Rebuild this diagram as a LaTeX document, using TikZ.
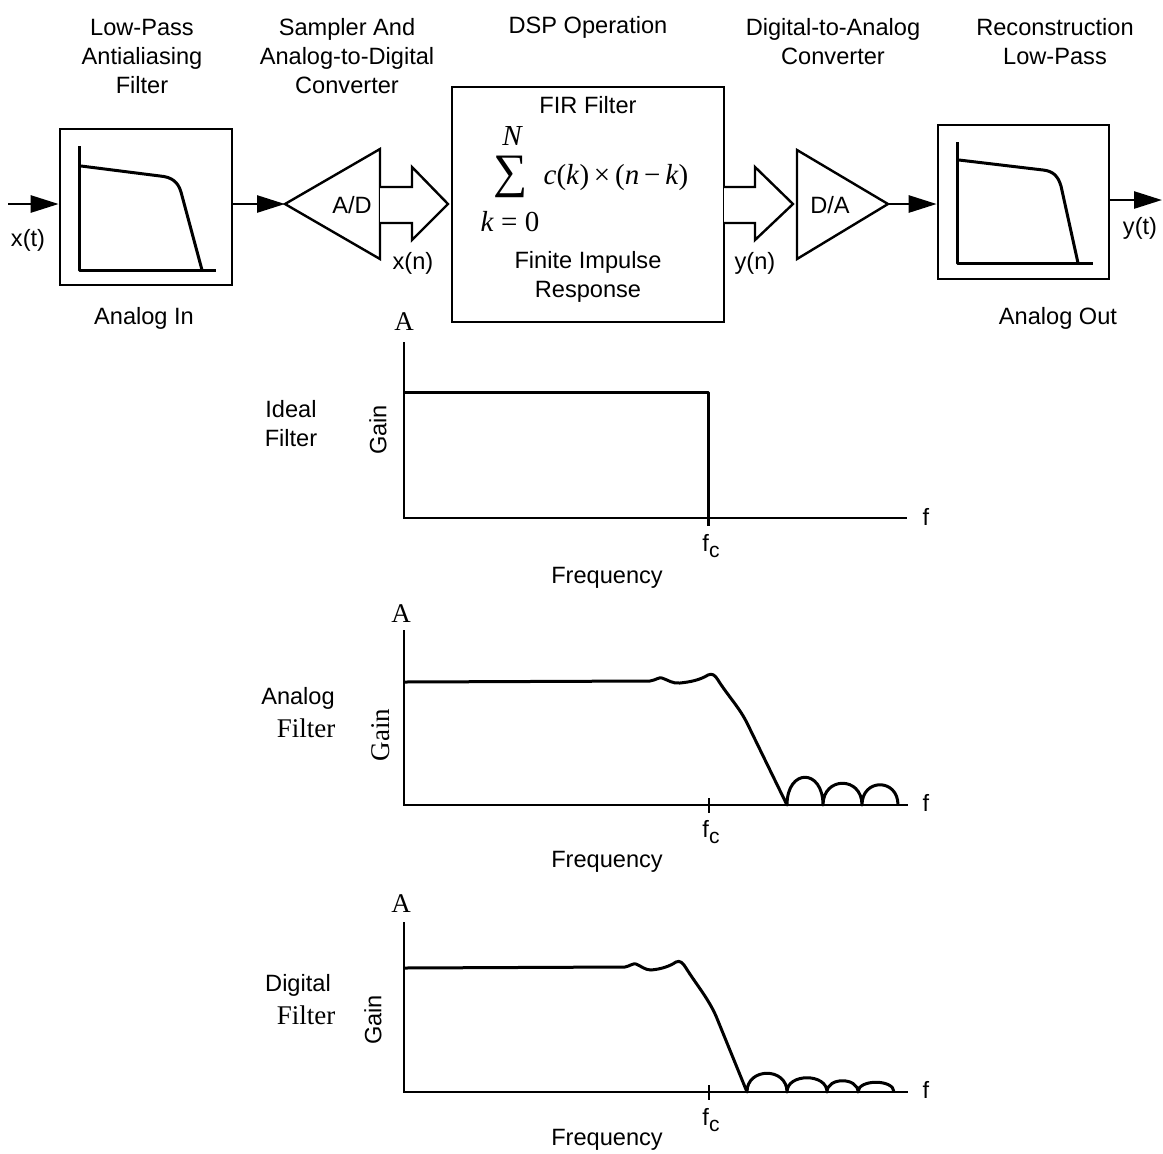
\documentclass[tikz,border=0pt]{standalone}
\usepackage{fontspec}
\setmainfont{Liberation Sans}
\newfontfamily\tms{Liberation Serif}
\usetikzlibrary{arrows.meta,positioning}
\newcommand{\fcut}{f\raisebox{-0.55ex}{\fontsize{10.5}{11}\selectfont c}}

\begin{document}
\begin{tikzpicture}[x=0.5pt,y=-0.5pt,
            every node/.append style={font=\fontsize{11.8}{14.5}\selectfont, inner sep=0pt},
            serif/.style={font=\tms\fontsize{13.5}{15}\selectfont},
            blockbox/.style={draw, line width=1.3pt, minimum width=86pt, minimum height=78pt},
            sig/.style={line width=1.3pt, -{Triangle[length=14pt,width=8.5pt]}},
            bus/.style={draw, fill=white, line width=1.2pt, line join=miter},
            resp/.style={line width=1.5pt, line join=round},
            axis/.style={line width=1.4pt},
            caption/.style={align=center}]
            \useasboundingbox (0,0) rectangle (1163,1153);
            % stage titles
            \node[caption] (t1) at (142,56) {Low-Pass\\Antialiasing\\Filter};
            \node[caption] (t2) at (347,56) {Sampler And\\Analog-to-Digital\\Converter};
            \node[caption] (t3) at (588,27) {DSP Operation};
            \node[caption] (t4) at (833,41.5) {Digital-to-Analog\\Converter};
            \node[caption] (t5) at (1055,41.5) {Reconstruction\\Low-Pass};
            % signal chain
            \coordinate (xin) at (8,204);
            \node[blockbox] (lpf) at (146,207) {};
            \node[blockbox, minimum width=85.5pt, minimum height=77pt] (rec) at (1023.5,202) {};
            \node[blockbox, minimum width=136pt, minimum height=117.5pt] (fir) at (588,204.5) {};
            \coordinate (adin) at (285,204);
            \coordinate (daout) at (888,204);
            \coordinate (yout) at (1162,200);
            \draw[line width=1.2pt] (adin) -- (380,149) -- (380,259) -- cycle;
            \draw[line width=1.2pt] (797,150) -- (797,259) -- (daout) -- cycle;
            \node (adlbl) at (352,205) {A/D};
            \node (dalbl) at (830,205) {D/A};
            \draw[bus] (380,187) -- (412,187) -- (412,167) -- (448,204) -- (412,240) -- (412,223) -- (380,223);
            \draw[bus] (724,187) -- (755,187) -- (755,167) -- (793,204) -- (755,240) -- (755,223) -- (724,223);
            \draw[sig] (xin) -- (xin -| lpf.west);
            \draw[sig] (lpf.east |- adin) -- (adin);
            \draw[sig] (daout) -- (daout -| rec.west);
            \draw[sig] (rec.east |- yout) -- (yout);
            \node (xt) at (28,240) {x(t)};
            \node (xn) at (413,263) {x(n)};
            \node (yn) at (755,263) {y(n)};
            \node (yt) at (1140,228) {y(t)};
            \node (ain) at (144,318) {Analog In};
            \node (aout) at (1058,318) {Analog Out};
            % analog filter sketches
            \draw[resp] (79,146) -- (79,270) -- (216,270);
            \draw[resp] (81,166) -- (160,176) .. controls (172,177) and (178,182) .. (181,192) -- (202,270);
            \draw[resp] (957,142) -- (957,263) -- (1093,263);
            \draw[resp] (959,160) -- (1043,170) .. controls (1053,171) and (1058,176) .. (1061,186) -- (1078,263);
            % FIR block text
            \node (firname) at (588,105) {FIR Filter};
            \node (firN) at (512,136) {\tms\fontsize{14.5}{15}\selectfont\itshape N};
            \node (firsum) at (511,177) {\tms\fontsize{24}{24}\selectfont ∑};
            \node (firterm) at (616,178) {\tms\fontsize{14.5}{15}\selectfont \textit{c}(\textit{k})\,×\,(\textit{n}\,−\,\textit{k})};
            \node (firk) at (510,222) {\tms\fontsize{14.5}{15}\selectfont \textit{k} = 0};
            \node[caption] (firdesc) at (588,277) {Finite Impulse\\Response};
            % ideal filter
            \node[serif] (ia) at (404,322) {A};
            \node[caption] (ilbl) at (291,424) {Ideal\\Filter};
            \node[rotate=90] (igain) at (378,430) {Gain};
            \draw[axis] (404,342) -- (404,518) -- (907,518);
            \draw[resp] (404,392) -- (708,392) -- (708,526);
            \node (if) at (926,517) {f};
            \node (ifc) at (711,546) {\fcut};
            \node (ifreq) at (607,578) {Frequency};
            % analog filter
            \node[serif] (aa) at (401,614) {A};
            \node (albl1) at (298,698) {Analog};
            \node[serif] (albl2) at (306,728) {Filter};
            \node[serif, rotate=90] (again) at (381,735) {Gain};
            \draw[axis] (404,630) -- (404,805) -- (908,805);
            \draw[axis] (709,798) -- (709,813);
            \draw[resp] (404,682) -- (650,681) .. controls (656,680) and (659,677) .. (662,678)
                .. controls (668,680) and (673,684) .. (680,683) .. controls (690,682) and (700,680) .. (708,675)
                .. controls (712,673) and (715,675) .. (718,680) .. controls (728,696) and (740,708) .. (748,725)
                -- (787,805)
                .. controls (787,768) and (823,768) .. (823,805)
                .. controls (823,776) and (862,776) .. (862,805)
                .. controls (862,778) and (898,778) .. (898,805);
            \node (af) at (926,803) {f};
            \node (afc) at (711,832) {\fcut};
            \node (afreq) at (607,862) {Frequency};
            % digital filter
            \node[serif] (da) at (401,904) {A};
            \node (dlbl1) at (298,985) {Digital};
            \node[serif] (dlbl2) at (306,1015) {Filter};
            \node[rotate=90] (dgain) at (373,1020) {Gain};
            \draw[axis] (404,922) -- (404,1092) -- (908,1092);
            \draw[axis] (709,1085) -- (709,1100);
            \draw[resp] (404,968) -- (625,967) .. controls (630,966) and (633,963) .. (636,964)
                .. controls (641,966) and (645,970) .. (651,970) .. controls (662,969) and (670,966) .. (676,962)
                .. controls (680,960) and (683,963) .. (686,968) .. controls (696,984) and (708,998) .. (716,1016)
                -- (747,1092)
                .. controls (747,1067) and (787,1067) .. (787,1092)
                .. controls (787,1073) and (827,1073) .. (827,1092)
                .. controls (827,1077) and (858,1077) .. (858,1092)
                .. controls (858,1079) and (894,1079) .. (894,1092);
            \node (df) at (926,1090) {f};
            \node (dfc) at (711,1120) {\fcut};
            \node (dfreq) at (607,1140) {Frequency};
        \end{tikzpicture}
\end{document}
